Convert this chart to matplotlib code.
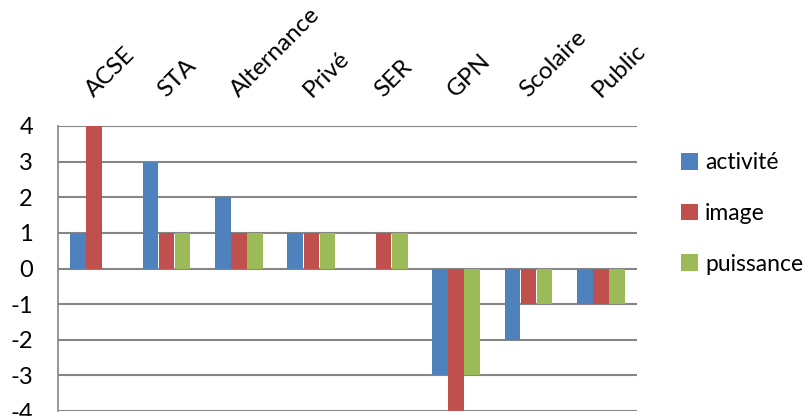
import matplotlib
matplotlib.use("Agg")
import matplotlib.pyplot as plt
import numpy as np

categories = ["ACSE", "STA", "Alternance", "Privé", "SER", "GPN", "Scolaire", "Public"]
activite = [1, 3, 2, 1, 0, -3, -2, -1]
image = [4, 1, 1, 1, 1, -4, -1, -1]
puissance = [0, 1, 1, 1, 1, -3, -1, -1]
series_names = ["activité", "image", "puissance"]
yticks = [4, 3, 2, 1, 0, -1, -2, -3, -4]

colors = ["#4F81BD", "#C0504D", "#9BBB59"]
plt.rcParams['font.family'] = ['Lato', 'DejaVu Sans']

W, H = 808, 416
fig = plt.figure(figsize=(W / 100, H / 100), dpi=100)
x0, x1 = 58, 637
ytop, ybot = 126, 411
ax = fig.add_axes([x0 / W, 1 - ybot / H, (x1 - x0) / W, (ybot - ytop) / H])

x = np.arange(len(categories))
bw = 0.215
handles = []
for i, (vals, name) in enumerate(zip([activite, image, puissance], series_names)):
    b = ax.bar(x + (i - 1) * 0.222, vals, width=bw, color=colors[i], label=name,
               zorder=3, linewidth=0)
    handles.append(b)

ax.set_xlim(-0.5, len(categories) - 0.5)
ax.set_ylim(-4, 4)
ax.set_yticks(yticks)
ax.set_yticklabels([str(v) for v in yticks], fontsize=17)
ax.tick_params(axis='y', length=0, pad=18)

ax.xaxis.tick_top()
ax.set_xticks(x)
ax.set_xticklabels(categories, fontsize=17.5, rotation=45, rotation_mode='anchor',
                   ha='left', va='baseline')
ax.tick_params(axis='x', length=0, pad=20)

ax.grid(axis='y', color='#868686', linewidth=1.5, zorder=0)
for s in ['top', 'right', 'bottom']:
    ax.spines[s].set_visible(False)
ax.spines['left'].set_color('#868686')
ax.spines['left'].set_linewidth(1.2)

leg = fig.legend(handles=handles, labels=series_names, loc='upper left',
                 bbox_to_anchor=(672 / W, 1 - 143 / H), frameon=False,
                 fontsize=16.5, handlelength=0.75, handleheight=0.75,
                 handletextpad=0.3, labelspacing=1.3, borderaxespad=0)

fig.savefig("out.png", dpi=100)
